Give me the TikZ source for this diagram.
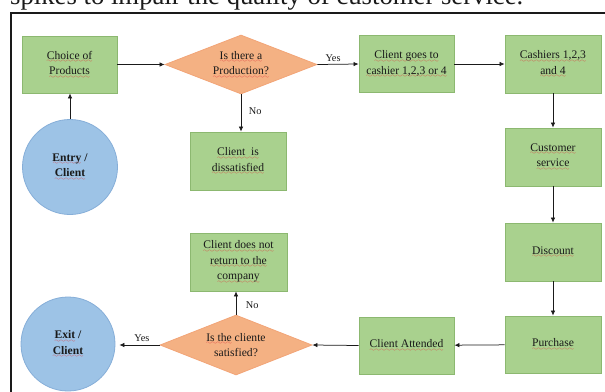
\documentclass[tikz,border=0pt]{standalone}
\usepackage{fontspec}
\setmainfont{Liberation Serif}
\usetikzlibrary{shapes.geometric,arrows.meta}

\definecolor{boxfill}{HTML}{A9D18E}
\definecolor{boxline}{HTML}{8CB870}
\definecolor{decfill}{HTML}{F4B183}
\definecolor{decline}{HTML}{F2A578}
\definecolor{termfill}{HTML}{9DC3E6}
\definecolor{termline}{HTML}{86AED8}
\definecolor{spell}{HTML}{E03C3C}
\definecolor{ink}{HTML}{1A1A1A}

% red wavy underline, proofing style
\font\wavefont=lasy6
\newsavebox\wavebox
\newcommand\wavy[1]{\sbox\wavebox{#1}\leavevmode
  \rlap{\color{spell}\hbox to\wd\wavebox{\xleaders\hbox{\lower3.5pt\hbox{\wavefont\char58}}\hfill}}%
  \usebox\wavebox}

\newcommand\boxfont{\fontsize{11.6}{15.5}\selectfont}
\newcommand\lblfont{\fontsize{10.3}{12}\selectfont}

\begin{document}
\begin{tikzpicture}[x=1pt,y=-1pt,
  box/.style={draw=boxline, fill=boxfill, line width=0.8pt,
    minimum width=95pt, minimum height=57pt, inner sep=2pt,
    align=center, font=\boxfont, text=ink},
  decision/.style={diamond, draw=decline, fill=decfill, line width=0.8pt,
    minimum width=152pt, minimum height=59pt, aspect=2.58, inner sep=0pt,
    align=center, font=\boxfont, text=ink},
  terminal/.style={circle, draw=termline, fill=termfill, line width=0.8pt,
    minimum size=95pt, inner sep=0pt, align=center,
    font=\boxfont\bfseries, text=ink},
  flow/.style={-{Latex[length=5pt,width=4.5pt]}, line width=0.75pt, draw=ink},
  lbl/.style={font=\lblfont, text=ink, inner sep=1.5pt}]

\useasboundingbox (0,0) rectangle (605,391);
\clip (0,0) rectangle (605,391);

% running text above the frame
\node[anchor=base west, inner sep=0pt, font=\fontsize{26.7}{30}\selectfont, text=ink]
  (caption) at (10,4) {spikes to impair the quality of customer service.};

% frame
\draw[line width=2.3pt, ink] (11.2,400) -- (11.2,12.8) -- (620,12.8);

% top row
\node[box] (choice) at (69.5,64.5) {\wavy{Choice of}\\\wavy{Products}};
\node[decision] (prod) at (241,64.5) {\wavy{Is there a}\\\wavy{Production?}};
\node[box] (goes) at (406.5,64) {\wavy{Client goes to}\\\wavy{cashier 1,2,3 or 4}};
\node[box, minimum width=96pt, minimum height=58pt] (cashiers) at (553,64)
  {\wavy{Cashiers 1,2,3}\\\wavy{and 4}};

% middle
\node[terminal] (entry) at (70,167) {\wavy{Entry} /\\\wavy{Client}};
\node[box, minimum width=96pt, minimum height=58pt] (dissat) at (238,161)
  {\wavy{Client\ \ is}\\\wavy{dissatisfied}};
\node[box, minimum width=96pt, minimum height=58pt] (custserv) at (553,157)
  {\wavy{Customer}\\\wavy{service}};
\node[box, minimum width=96pt, minimum height=58pt] (discount) at (553,252)
  {\wavy{Discount}};
\node[box, minimum width=97pt, minimum height=58pt] (noreturn) at (238.5,262)
  {\wavy{Client does not}\\\wavy{return to the}\\\wavy{company}};

% bottom row
\node[box, minimum width=96pt] (purchase) at (553,344.5) {\wavy{Purchase}};
\node[box] (attended) at (406.5,345.5) {\wavy{Client Attended}};
\node[decision, minimum height=60pt] (satisf) at (236,345)
  {\wavy{Is the} cliente\\satisfied?};
\node[terminal, minimum size=94pt] (exit) at (68,344) {\wavy{Exit} /\\\wavy{Client}};

% connectors
\draw[flow] (entry.north) -- (entry.north |- choice.south);
\draw[flow] (choice.east) -- (prod.west);
\draw[flow] (prod.south) -- (prod.south |- dissat.north)
  node[lbl, pos=0.45, right=6pt] {No};
\draw[flow] (prod.east) -- (goes.west)
  node[lbl, pos=0.38, above=1pt] {Yes};
\draw[flow] (goes) -- (cashiers);
\draw[flow] (cashiers) -- (custserv);
\draw[flow] (custserv) -- (discount);
\draw[flow] (discount) -- (purchase);
\draw[flow] (purchase) -- (attended);
\draw[flow] (attended.west) -- (satisf.east);
\draw[flow] (satisf.north) -- (satisf.north |- noreturn.south)
  node[lbl, pos=0.4, right=8pt] {No};
\draw[flow, shorten >=4pt] (satisf.west) -- (satisf.west -| exit.east)
  node[lbl, pos=0.4, above=2pt] {Yes};

\end{tikzpicture}
\end{document}
